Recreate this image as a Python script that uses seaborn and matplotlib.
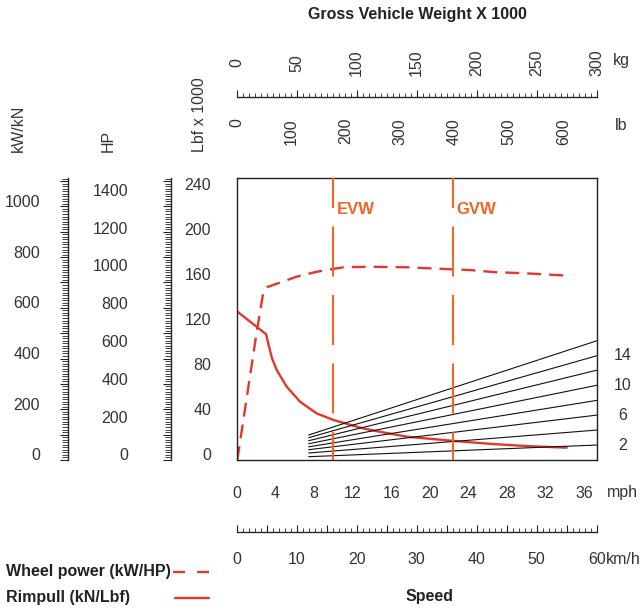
import numpy as np
import pandas as pd
import matplotlib
matplotlib.use('Agg')
import matplotlib.pyplot as plt
import seaborn as sns
from matplotlib import transforms
from matplotlib.lines import Line2D
from matplotlib.ticker import MultipleLocator

# --- data (speed km/h, force kN, power kW, weight t) ---
rimpull_speed = [0, 4.9, 5.3, 5.9, 6.67, 8.33, 10.55, 13.3, 16.1, 20.5, 22.8, 28.3, 35.8, 38.9, 42.7, 48.3, 55]
rimpull_kn = [587, 496, 455, 400, 355, 289, 230, 184, 158, 128, 116, 92, 76, 70, 63, 55, 48.5]

power_speed = [0.1, 1.7, 3.3, 4.4, 5.0, 10.0, 13.3, 16.0, 17.8, 22, 28.3, 35.8, 38.9, 42.8, 48.3, 55.0]
power_kw = [0, 250, 500, 657, 681, 723, 742, 753, 760, 762, 760, 752, 749, 741, 736, 727]

grades = [2, 4, 6, 8, 10, 12, 14, 16]
grade_weight = [60, 300]
grade_start_kn = [13, 27.6, 40.6, 52, 64, 76, 88, 98.6]
grade_end_kn = [59, 118, 177, 235, 294.5, 354, 411, 470]
grade_labels = [2, 6, 10, 14]

evw_t = 80
gvw_t = 180

kg_ticks = [0, 50, 100, 150, 200, 250, 300]
lb_ticks = [0, 100, 200, 300, 400, 500, 600]
kw_ticks = [0, 200, 400, 600, 800, 1000]
hp_ticks = [0, 200, 400, 600, 800, 1000, 1200, 1400]
lbf_ticks = [0, 40, 80, 120, 160, 200, 240]
mph_ticks = [0, 4, 8, 12, 16, 20, 24, 28, 32, 36]
kmh_ticks = [0, 10, 20, 30, 40, 50, 60]

KMH_MAX, KN_MAX, T_MAX = 60, 1112, 300

RED = '#e2382b'
ORANGE = '#f26522'
TXT = '#333333'

sns.set_style('white')
plt.rcParams['font.family'] = ['Liberation Sans', 'DejaVu Sans']
plt.rcParams['font.size'] = 11.5

W, H = 643, 610
def fx(p):
    return p / W
def fy(p):
    return 1 - p / H

L, R, T, B = 236.7, 596.7, 178, 460

fig = plt.figure(figsize=(6.43, 6.10), dpi=100)

ax = fig.add_axes([fx(L), fy(B), (R - L) / W, (B - T) / H])
ax.set_xlim(0, KMH_MAX)
ax.set_ylim(0, KN_MAX)
ax.set_xticks([])
ax.set_yticks([])
for s in ax.spines.values():
    s.set_visible(True)
    s.set_color('#222222')
    s.set_linewidth(1.0)

# weight axis sharing the plot box
ax_w = ax.twiny()
ax_w.set_xlim(0, T_MAX)
ax_w.axis('off')

# gradeability lines
rows = []
for g, a, b in zip(grades, grade_start_kn, grade_end_kn):
    rows.append({'grade': g, 'weight': grade_weight[0], 'kn': a})
    rows.append({'grade': g, 'weight': grade_weight[1], 'kn': b})
df_grade = pd.DataFrame(rows)
sns.lineplot(data=df_grade, x='weight', y='kn', units='grade', estimator=None,
             color='#111111', lw=0.8, ax=ax_w, legend=False)

# EVW / GVW markers
for w, name in [(evw_t, 'EVW'), (gvw_t, 'GVW')]:
    ax_w.plot([w, w], [0, KN_MAX], color=ORANGE, lw=1.5,
              linestyle=(10.6, (24, 8.9)), solid_capstyle='butt')
    tr = transforms.offset_copy(
        transforms.blended_transform_factory(ax_w.transData, ax_w.transAxes),
        fig=fig, x=4, units='dots')
    ax_w.text(w, (B - 209) / (B - T), name, transform=tr, color=ORANGE,
              weight='bold', ha='left', va='center', fontsize=12)

# curves
sns.lineplot(x=power_speed, y=power_kw, ax=ax, color=RED, lw=1.7,
             linestyle=(0, (5.9, 3.4)))
sns.lineplot(x=rimpull_speed, y=rimpull_kn, ax=ax, color=RED, lw=1.7)
ax.set_xlim(0, KMH_MAX)
ax.set_ylim(0, KN_MAX)
ax.set_xlabel('')
ax.set_ylabel('')
ax_w.set_ylim(0, KN_MAX)
ax_w.set_xlim(0, T_MAX)

# grade labels on the right
tr_r = transforms.blended_transform_factory(fig.transFigure, ax.transData)
for g in grade_labels:
    ax.text(fx(623), grade_end_kn[grades.index(g)], str(g), transform=tr_r,
            ha='center', va='center', color=TXT)


def v_ruler(xp):
    r = fig.add_axes([fx(xp), fy(B), 1e-4, (B - T) / H])
    r.set_ylim(0, KN_MAX)
    r.set_xticks([])
    r.patch.set_visible(False)
    for side in ['top', 'bottom', 'right']:
        r.spines[side].set_visible(False)
    r.spines['left'].set_linewidth(1.0)
    r.yaxis.set_major_locator(MultipleLocator(100))
    r.yaxis.set_minor_locator(MultipleLocator(10))
    r.tick_params(axis='y', which='major', left=True, direction='out', length=6,
                  width=0.8, labelleft=False, color='#222222')
    r.tick_params(axis='y', which='minor', left=True, direction='out', length=4.3,
                  width=0.6, color='#222222')
    return r


def h_ruler(yp, xmax, major, minor):
    r = fig.add_axes([fx(L), fy(yp), (R - L) / W, 1e-4])
    r.set_xlim(0, xmax)
    r.set_yticks([])
    r.patch.set_visible(False)
    for side in ['top', 'left', 'right']:
        r.spines[side].set_visible(False)
    r.spines['bottom'].set_linewidth(1.0)
    r.xaxis.set_major_locator(MultipleLocator(major))
    r.xaxis.set_minor_locator(MultipleLocator(minor))
    r.tick_params(axis='x', which='major', bottom=True, direction='in', length=5,
                  width=0.8, labelbottom=False, color='#222222')
    r.tick_params(axis='x', which='minor', bottom=True, direction='in', length=3,
                  width=0.6, color='#222222')
    return r


v_ruler(67.5)
v_ruler(170.5)

tr_l = transforms.offset_copy(tr_r, fig=fig, y=4, units='dots')
for v in kw_ticks:
    ax.text(fx(40), v, str(v), transform=tr_l, ha='right', va='center', color=TXT)
for v in hp_ticks:
    ax.text(fx(128), v * 0.7457, str(v), transform=tr_l, ha='right', va='center', color=TXT)
for v in lbf_ticks:
    ax.text(fx(211), v * 4.448, str(v), transform=tr_l, ha='right', va='center', color=TXT)

for xp, name in [(18, 'kW/kN'), (108, 'HP'), (200, 'Lbf x 1000')]:
    fig.text(fx(xp), fy(152), name, rotation=90, ha='center', va='bottom', color=TXT)

# top weight ruler
rk = h_ruler(97.3, T_MAX, 50, 5)
tr_k = transforms.blended_transform_factory(rk.transData, fig.transFigure)
for v in kg_ticks:
    rk.text(v, fy(63), str(v), transform=tr_k, rotation=90, ha='center', va='center', color=TXT)
for v in lb_ticks:
    rk.text(v * 0.45359, fy(118), str(v), transform=tr_k, rotation=90, ha='center', va='top', color=TXT)
fig.text(fx(613), fy(60), 'kg', ha='left', va='center', color=TXT)
fig.text(fx(615), fy(125), 'lb', ha='left', va='center', color=TXT)
fig.text(fx(417), fy(15), 'Gross Vehicle Weight X 1000', ha='center', va='center',
         weight='bold', fontsize=11.5, color='#222222')

# bottom speed ruler
rs = h_ruler(531.7, KMH_MAX, 5, 1)
tr_s = transforms.blended_transform_factory(rs.transData, fig.transFigure)
for v in mph_ticks:
    rs.text(v * 1.609, fy(493), str(v), transform=tr_s, ha='center', va='center', color=TXT)
for v in kmh_ticks:
    rs.text(v, fy(560), str(v), transform=tr_s, ha='center', va='center', color=TXT)
fig.text(fx(607), fy(493), 'mph', ha='left', va='center', color=TXT)
fig.text(fx(606), fy(560), 'km/h', ha='left', va='center', color=TXT)
fig.text(fx(430), fy(597), 'Speed', ha='center', va='center', weight='bold',
         fontsize=11.5, color='#222222')

# legend
fig.text(fx(6), fy(571.7), 'Wheel power (kW/HP)', ha='left', va='center', weight='bold',
         fontsize=11.5, color='#222222')
fig.text(fx(6), fy(597.7), 'Rimpull (kN/Lbf)', ha='left', va='center', weight='bold',
         fontsize=11.5, color='#222222')
fig.add_artist(Line2D([fx(173), fx(209)], [fy(571.7)] * 2, transform=fig.transFigure,
                      color=RED, lw=1.7, linestyle=(0, (5.1, 5.1))))
fig.add_artist(Line2D([fx(175), fx(209)], [fy(597.7)] * 2, transform=fig.transFigure,
                      color=RED, lw=1.7))

fig.savefig('out.png', dpi=100)
